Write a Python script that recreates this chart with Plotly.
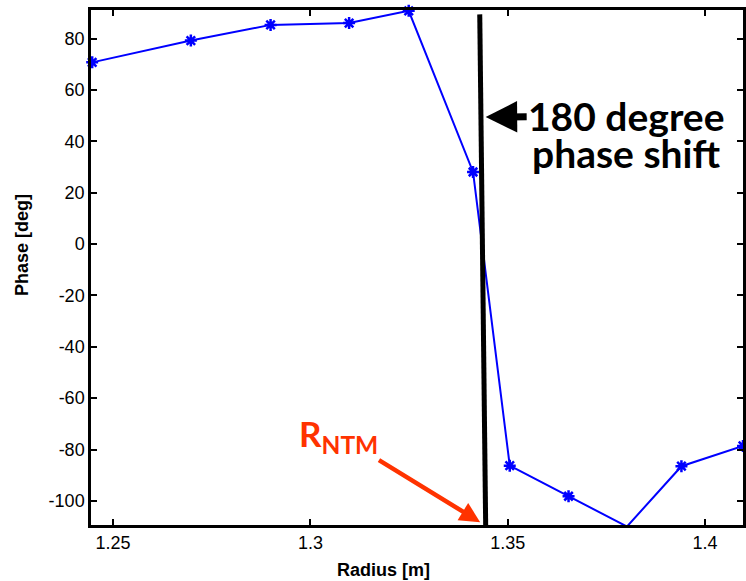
import plotly.graph_objects as go

radius = [1.2447, 1.2697, 1.2899, 1.3098, 1.3249, 1.3412, 1.3505, 1.3654, 1.3802, 1.3940, 1.4096]
phase = [70.8, 79.3, 85.4, 86.1, 90.9, 28.1, -86.3, -98.2, -110.0, -86.5, -78.6]
x_ticks = [1.25, 1.3, 1.35, 1.4]
x_tick_labels = ["1.25", "1.3", "1.35", "1.4"]
y_ticks = [-100, -80, -60, -40, -20, 0, 20, 40, 60, 80]
y_tick_labels = [str(v) for v in y_ticks]

fig = go.Figure()
fig.add_trace(go.Scatter(
    x=radius, y=phase, mode="lines+markers",
    line=dict(color="#0000ff", width=2),
    marker=dict(symbol="asterisk-open", size=10, color="#0000ff",
                line=dict(color="#0000ff", width=2.5)),
    cliponaxis=False, showlegend=False,
))

# 180-degree shift line
fig.add_shape(type="line", xref="x", yref="y",
              x0=1.3429, y0=89.5, x1=1.3444, y1=-109.4,
              line=dict(color="black", width=5))

# R_NTM label with red arrow
fig.add_annotation(x=1.3430, y=-108.3, xref="x", yref="y",
                   ax=-142, ay=-87, axref="pixel", ayref="pixel",
                   text="<b>R<sub>NTM</sub></b>", showarrow=True,
                   arrowhead=2, arrowsize=0.9, arrowwidth=4.5, arrowcolor="#ff3300",
                   font=dict(family="Lato, Open Sans, sans-serif", size=35, color="#ff3300"))

# black arrow and text
txt_font = dict(family="Lato, Open Sans, sans-serif", size=39, color="black")
fig.add_annotation(x=1.3444, y=49.5, xref="x", yref="y",
                   ax=141, ay=-1, axref="pixel", ayref="pixel",
                   text="<b>180 degree</b>", showarrow=True,
                   arrowhead=2, arrowsize=0.9, arrowwidth=7, arrowcolor="black",
                   font=txt_font)
fig.add_annotation(x=1.3556, y=35.5, xref="x", yref="y",
                   text="<b>phase shift</b>", showarrow=False,
                   xanchor="left", yanchor="middle", font=txt_font)

title_font = dict(family="Liberation Sans, Arial, sans-serif", size=18, color="black")
fig.add_annotation(x=(383 - 91) / 652, y=-(570 - 525) / 515, xref="paper", yref="paper",
                   text="<b>Radius [m]</b>", showarrow=False, font=title_font,
                   xanchor="center", yanchor="middle")
fig.add_annotation(x=-(91 - 22) / 652, y=(525 - 245) / 515, xref="paper", yref="paper",
                   text="<b>Phase [deg]</b>", showarrow=False, font=title_font,
                   textangle=-90, xanchor="center", yanchor="middle")

axis_font = dict(family="Liberation Sans, Arial, sans-serif", size=18, color="black")
fig.update_layout(
    width=746, height=581,
    margin=dict(l=91, r=3, t=10, b=56, autoexpand=False),
    paper_bgcolor="white", plot_bgcolor="white",
    xaxis=dict(range=[1.2444, 1.4096], tickvals=x_ticks, ticktext=x_tick_labels,
               ticks="inside", ticklen=6, tickwidth=2, tickcolor="black",
               showline=True, linecolor="black", linewidth=2.5, mirror="ticks",
               showgrid=False, zeroline=False, tickfont=axis_font, automargin=False),
    yaxis=dict(range=[-109.4, 91.2], tickvals=y_ticks, ticktext=y_tick_labels,
               ticks="inside", ticklen=6, tickwidth=2, tickcolor="black",
               showline=True, linecolor="black", linewidth=2.5, mirror="ticks",
               showgrid=False, zeroline=False, tickfont=axis_font, automargin=False),
)

fig.write_html("out.html", config={"displayModeBar": False},
               post_script="document.body.style.margin='0px';")
